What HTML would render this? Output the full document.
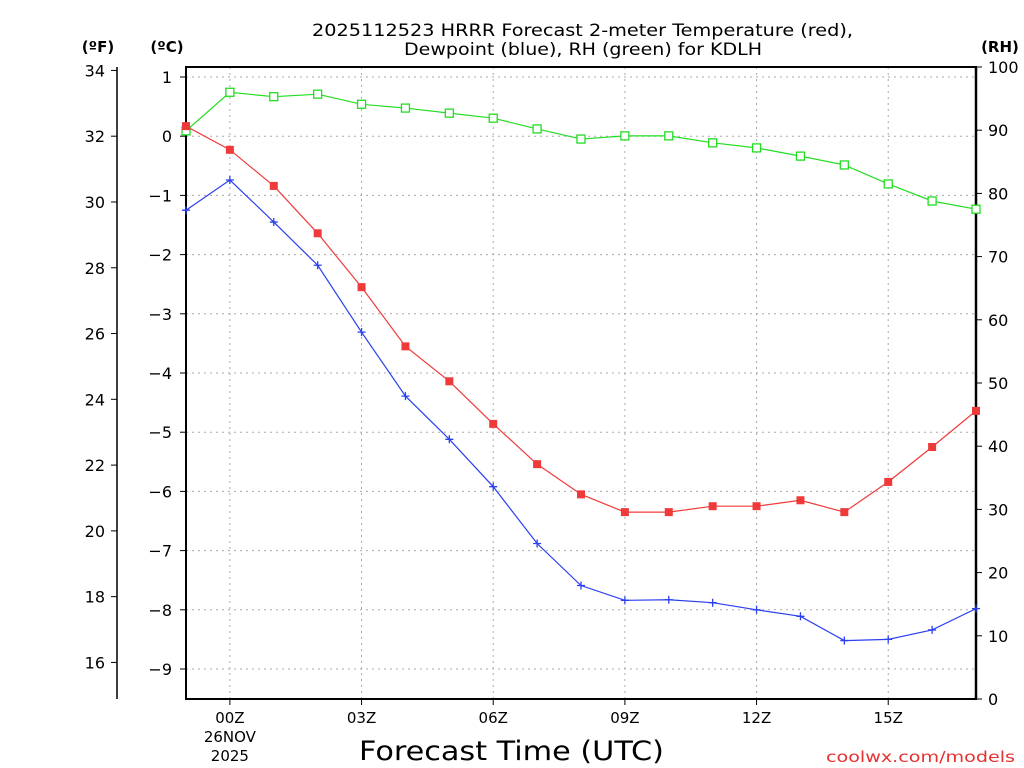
<!DOCTYPE html>
<html><head><meta charset="utf-8"><style>
html,body{margin:0;padding:0;background:#fff;}
svg{display:block;font-family:"DejaVu Sans","Liberation Sans",sans-serif;}
</style></head><body>
<svg id="chart" width="1024" height="768" xmlns="http://www.w3.org/2000/svg">
<text x="312" y="36" font-size="17" textLength="541" lengthAdjust="spacingAndGlyphs">2025112523 HRRR Forecast 2-meter Temperature (red),</text>
<text x="404" y="55" font-size="17" textLength="358" lengthAdjust="spacingAndGlyphs">Dewpoint (blue), RH (green) for KDLH</text>
<text x="98" y="52" text-anchor="middle" font-size="15" font-weight="bold">(ºF)</text>
<text x="167" y="52" text-anchor="middle" font-size="15" font-weight="bold">(ºC)</text>
<text x="1000" y="52" text-anchor="middle" font-size="15" font-weight="bold">(RH)</text>
<text x="359" y="760" font-size="27" textLength="305" lengthAdjust="spacingAndGlyphs">Forecast Time (UTC)</text>
<text x="826" y="762" font-size="15" fill="#e83030" textLength="189" lengthAdjust="spacingAndGlyphs">coolwx.com/models</text>
<g id="grid"></g><g id="axes"></g><g id="series"></g>
</svg>
<script>
const hours=[-1,0,1,2,3,4,5,6,7,8,9,10,11,12,13,14,15,16,17];
const tempC=[0.17,-0.23,-0.84,-1.64,-2.55,-3.55,-4.14,-4.86,-5.54,-6.05,-6.35,-6.35,-6.25,-6.25,-6.15,-6.35,-5.84,-5.25,-4.64];
const dewC=[-1.25,-0.74,-1.45,-2.18,-3.31,-4.39,-5.12,-5.92,-6.88,-7.59,-7.84,-7.83,-7.88,-8.0,-8.11,-8.52,-8.5,-8.34,-7.98];
const rh=[89.9,96.0,95.3,95.7,94.1,93.5,92.7,91.9,90.2,88.6,89.1,89.1,88.0,87.2,85.9,84.5,81.5,78.8,77.5];
const cTicks=[1,0,-1,-2,-3,-4,-5,-6,-7,-8,-9];
const fTicks=[34,32,30,28,26,24,22,20,18,16];
const rhTicks=[0,10,20,30,40,50,60,70,80,90,100];
const xTicks=[0,3,6,9,12,15];
const xLabels=["00Z","03Z","06Z","09Z","12Z","15Z"];

const L=186,R=976,T=67,B=699;
const X=h=>L+(h+1)*(R-L)/18;
const YC=c=>136.2-c*59.2;
const YF=f=>YC((f-32)/1.8);
const YR=r=>B-r*(B-T)/100;
const NS="http://www.w3.org/2000/svg";
function mk(p,tag,a,txt){const e=document.createElementNS(NS,tag);for(const k in a)e.setAttribute(k,a[k]);if(txt!==undefined)e.textContent=txt;p.appendChild(e);return e;}
const grid=document.getElementById('grid'),axes=document.getElementById('axes'),ser=document.getElementById('series');
xTicks.forEach((h,i)=>{
 const g=mk(grid,'line',{x1:X(h),x2:X(h),y1:T,y2:B,stroke:'#aaa','stroke-dasharray':'2,4'});
 
 
 const t=mk(axes,'line',{x1:X(h),x2:X(h),y1:B,y2:B+6,stroke:'#000'});
 
 
 const l=mk(axes,'text',{x:X(h),y:723,'text-anchor':'middle','font-size':15},xLabels[i]);
 
 
});
const d1=mk(axes,'text',{x:X(0),y:742,'text-anchor':'middle','font-size':15},'26NOV');


const d2=mk(axes,'text',{x:X(0),y:761,'text-anchor':'middle','font-size':15},'2025');


cTicks.forEach(c=>{
 const g=mk(grid,'line',{x1:L,x2:R,y1:YC(c),y2:YC(c),stroke:'#aaa','stroke-dasharray':'2,4'});
 
 
 const t=mk(axes,'line',{x1:L-6,x2:L,y1:YC(c),y2:YC(c),stroke:'#000'});
 
 
 const l=mk(axes,'text',{x:172,y:YC(c)+6,'text-anchor':'end','font-size':16},c<0?'\u2212'+(-c):String(c));
 
 
});
fTicks.forEach(f=>{
 const t=mk(axes,'line',{x1:111,x2:117,y1:YF(f),y2:YF(f),stroke:'#000'});
 
 
 const l=mk(axes,'text',{x:105,y:YF(f)+6,'text-anchor':'end','font-size':16},String(f));
 
 
});
rhTicks.forEach(r=>{
 const t=mk(axes,'line',{x1:R,x2:R+6,y1:YR(r),y2:YR(r),stroke:'#000'});
 
 
 const l=mk(axes,'text',{x:988,y:YR(r)+6,'font-size':16},String(r));
 
 
});
const fa=mk(axes,'line',{x1:117,x2:117,y1:T,y2:B,stroke:'#000','stroke-width':1.5});


const fr=mk(axes,'rect',{x:L,y:T,width:R-L,height:B-T,fill:'none',stroke:'#000','stroke-width':2});


const ra=mk(axes,'line',{x1:R,x2:R,y1:T,y2:B,stroke:'#000','stroke-width':2.5});



function series(vals,yf,color,name,marker){
 const pts=vals.map((v,i)=>X(hours[i])+','+yf(v)).join(' ');
 const pl=mk(ser,'polyline',{points:pts,fill:'none',stroke:color,'stroke-width':1.2});
 
 
 vals.forEach((v,i)=>{
  const x=X(hours[i]),y=yf(v);let m;
  if(marker==='fill') m=mk(ser,'rect',{x:x-4,y:y-4,width:8,height:8,fill:color});
  else if(marker==='open') m=mk(ser,'rect',{x:x-4,y:y-4,width:8,height:8,fill:'#fff',stroke:color,'stroke-width':1.3});
  else m=mk(ser,'path',{d:`M${x-4},${y}H${x+4}M${x},${y-4}V${y+4}`,stroke:color,'stroke-width':1.3});
  
  
 });
}
series(rh,YR,'#22dd22','rh','open');
series(dewC,YC,'#2a3ff0','dewpoint','plus');
series(tempC,YC,'#f03a3a','temperature','fill');
</script>
</body></html>
